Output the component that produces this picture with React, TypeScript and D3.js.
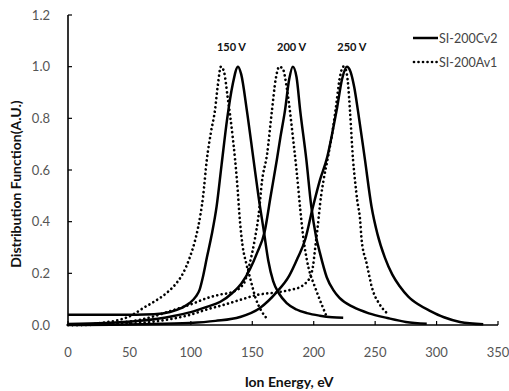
import React from "react";
import * as d3 from "d3";

type P = [number, number];

const xTicks = [0, 50, 100, 150, 200, 250, 300, 350];
const yTicks = [0, 0.2, 0.4, 0.6, 0.8, 1.0, 1.2];
const peakLabels = ["150 V", "200 V", "250 V"];
const peakLabelX = [133, 182, 231];
const seriesNames = ["SI-200Cv2", "SI-200Av1"];

const C150: P[] = [[0,0.04],[40,0.04],[70,0.042],[83,0.05],[92,0.065],[99,0.085],[104,0.11],[107,0.135],[110,0.19],[113,0.26],[117,0.35],[121,0.46],[125,0.62],[129.6,0.8],[134,0.93],[138.4,1.0],[141,0.97],[145.6,0.83],[151,0.64],[155,0.5],[159.5,0.36],[163,0.25],[167,0.17],[172,0.12],[178,0.085],[186,0.06],[194.5,0.046],[205,0.036],[215,0.03],[224,0.028]];
const A150: P[] = [[0,0.0],[10,0.0],[30,0.01],[42,0.02],[52,0.038],[61,0.065],[70,0.09],[80.5,0.125],[87,0.155],[93.6,0.2],[99,0.26],[103,0.32],[106,0.38],[110,0.5],[113,0.64],[116.5,0.75],[119.6,0.83],[122,0.93],[124.5,1.0],[127,0.98],[130,0.88],[132,0.81],[134,0.73],[136,0.64],[137.5,0.56],[140,0.4],[142,0.31],[145,0.24],[148,0.186],[153,0.1],[158,0.05],[163,0.02]];
const C200: P[] = [[0,0.004],[30,0.008],[58.6,0.016],[86,0.035],[100,0.05],[113,0.07],[124,0.09],[134,0.125],[141,0.16],[148,0.215],[154,0.28],[160,0.36],[165,0.5],[170,0.64],[173,0.73],[176.6,0.83],[180,0.95],[183,1.0],[186,0.96],[189,0.83],[194,0.64],[198,0.46],[202,0.34],[205,0.28],[210.6,0.185],[216,0.135],[221,0.105],[232,0.07],[245,0.045],[260,0.027],[275,0.012],[292,0.005]];
const A200: P[] = [[0,0.0],[30,0.005],[58.6,0.02],[86,0.058],[100,0.08],[113,0.104],[124,0.118],[134,0.128],[143,0.16],[148,0.24],[152,0.33],[155,0.42],[158,0.56],[162,0.66],[166,0.83],[169,0.95],[172,1.0],[175,0.99],[178,0.92],[180.6,0.83],[183,0.73],[186,0.6],[189,0.45],[191,0.36],[194.5,0.25],[197,0.2],[200,0.16],[205,0.097],[209,0.05],[211,0.027]];
const C250: P[] = [[0,0.0],[60,0.003],[99,0.008],[120,0.016],[140,0.031],[156,0.065],[170,0.128],[180,0.19],[187,0.26],[193,0.33],[199,0.45],[205,0.56],[211,0.65],[215,0.74],[219,0.84],[223,0.95],[227,1.0],[230,0.98],[233,0.92],[236,0.83],[241.7,0.64],[247,0.46],[252,0.35],[258,0.26],[264,0.195],[270,0.15],[277,0.11],[285,0.08],[294.6,0.055],[306,0.03],[319,0.012],[338,0.003]];
const A250: P[] = [[0,0.0],[30,0.002],[58.6,0.008],[80,0.02],[99,0.039],[113,0.06],[126,0.077],[140,0.097],[153.6,0.116],[172.5,0.128],[182,0.137],[189,0.147],[194,0.165],[197,0.186],[199.5,0.23],[201,0.29],[203,0.37],[206,0.5],[208,0.56],[211.6,0.65],[215,0.74],[218,0.84],[221,0.95],[224,1.0],[226,0.99],[228,0.93],[229.5,0.83],[232,0.64],[233.6,0.56],[235.5,0.48],[237.7,0.41],[239,0.33],[243,0.24],[248,0.135],[253,0.085],[259.6,0.046]];

const solidSeries = [C150, C200, C250];
const dottedSeries = [A150, A200, A250];

export default function App() {
  const x = d3.scaleLinear().domain([0, 350]).range([68, 498]);
  const y = d3.scaleLinear().domain([0, 1.2]).range([325, 15]);
  const line = d3
    .line<P>()
    .x((d) => x(d[0]))
    .y((d) => y(d[1]))
    .curve(d3.curveMonotoneX);
  const font = "Lato, 'Open Sans', sans-serif";
  const grey = "#555";
  return (
    <svg
      width={509}
      height={391}
      style={{ position: "absolute", left: 0, top: 0, background: "#fff" }}
      fontFamily={font}
    >
      <rect width={509} height={391} fill="#fff" />
      <line x1={x(0)} x2={x(0)} y1={y(1.2)} y2={y(0)} stroke="#000" strokeWidth={1.6} />
      <line x1={x(0)} x2={x(350)} y1={y(0)} y2={y(0)} stroke="#000" strokeWidth={1.6} />
      {yTicks.map((t) => (
        <g key={"y" + t}>
          <line x1={x(0)} x2={x(0) + 4} y1={y(t)} y2={y(t)} stroke="#000" strokeWidth={1.2} />
          <text x={50} y={y(t) + 4.5} textAnchor="end" fontSize={13} fill={grey}>
            {t.toFixed(1)}
          </text>
        </g>
      ))}
      {xTicks.map((t) => (
        <g key={"x" + t}>
          <line x1={x(t)} x2={x(t)} y1={y(0)} y2={y(0) - 4} stroke="#000" strokeWidth={1.2} />
          <text x={x(t)} y={357} textAnchor="middle" fontSize={13} fill={grey}>
            {t}
          </text>
        </g>
      ))}
      <text
        transform={`translate(21,184) rotate(-90)`}
        textAnchor="middle"
        fontSize={14}
        fontWeight="bold"
        fill="#111"
      >
        Distribution Function(A.U.)
      </text>
      <text x={289} y={387} textAnchor="middle" fontSize={14} fontWeight="bold" fill="#111">
        Ion Energy, eV
      </text>
      {solidSeries.map((s, i) => (
        <path key={"s" + i} d={line(s) || ""} fill="none" stroke="#000" strokeWidth={2.5} />
      ))}
      {dottedSeries.map((s, i) => (
        <path
          key={"d" + i}
          d={line(s) || ""}
          fill="none"
          stroke="#000"
          strokeWidth={2.7}
          strokeLinecap="round"
          strokeDasharray="0.01 4.5"
        />
      ))}
      {peakLabels.map((l, i) => (
        <text key={l} x={x(peakLabelX[i])} y={51} textAnchor="middle" fontSize={11} fontWeight="bold" fill="#111">
          {l}
        </text>
      ))}
      <line x1={413} x2={438} y1={38} y2={38} stroke="#000" strokeWidth={2.5} />
      <text x={439} y={42.5} fontSize={12.5} fill="#444">
        {seriesNames[0]}
      </text>
      <line
        x1={414}
        x2={438}
        y1={62}
        y2={62}
        stroke="#000"
        strokeWidth={2.7}
        strokeLinecap="round"
        strokeDasharray="0.01 4.5"
      />
      <text x={439} y={66.5} fontSize={12.5} fill="#444">
        {seriesNames[1]}
      </text>
    </svg>
  );
}
